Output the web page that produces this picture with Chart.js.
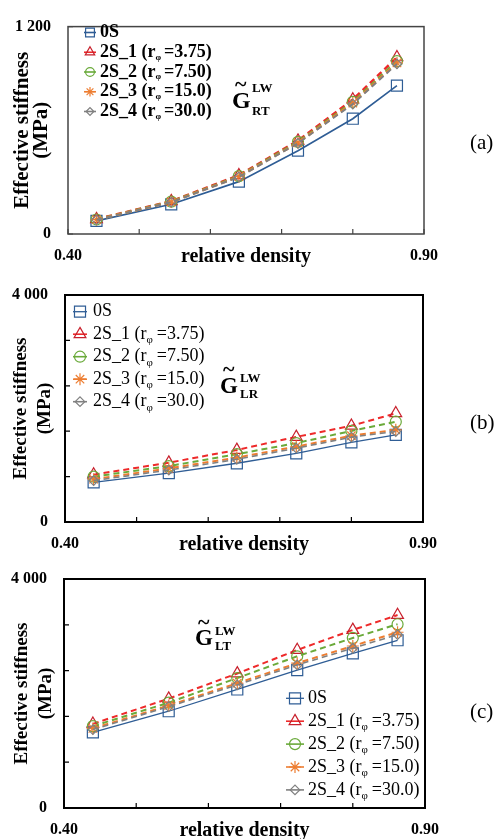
<!DOCTYPE html>
<html>
<head>
<meta charset="utf-8">
<title>Effective stiffness vs relative density</title>
<script src="https://cdn.jsdelivr.net/npm/chart.js@4.4.1/dist/chart.umd.min.js"></script>
<style>
  body { margin: 0; background: #fff; }
  #page { position: relative; width: 496px; height: 839px; overflow: hidden; font-family: "Liberation Serif", "Times New Roman", serif; }
  canvas { position: absolute; left: 0; top: 0; }
  .t { position: absolute; line-height: 1; white-space: nowrap; color: #000; }
  .b { font-weight: bold; }
</style>
</head>
<body>
<div id="page">
  <canvas id="chartA" width="496" height="839"></canvas>
  <canvas id="chartB" width="496" height="839"></canvas>
  <canvas id="chartC" width="496" height="839"></canvas>

  <!-- (a) G~ RT label -->
  <div class="t b" style="left:235px;top:73px;font-size:22px">~</div>
  <div class="t b" style="left:232px;top:88px;font-size:24px">G</div>
  <div class="t b" style="left:252px;top:81px;font-size:13px">LW</div>
  <div class="t b" style="left:252px;top:104px;font-size:13px">RT</div>
  <div class="t" style="left:470px;top:132px;font-size:21px">(a)</div>

  <!-- (b) G~ LR label -->
  <div class="t b" style="left:223px;top:358px;font-size:22px">~</div>
  <div class="t b" style="left:220px;top:374px;font-size:23px">G</div>
  <div class="t b" style="left:240px;top:371px;font-size:13px">LW</div>
  <div class="t b" style="left:240px;top:387px;font-size:13px">LR</div>
  <div class="t" style="left:470px;top:412px;font-size:21px">(b)</div>

  <!-- (c) G~ LT label -->
  <div class="t b" style="left:198px;top:611px;font-size:22px">~</div>
  <div class="t b" style="left:195px;top:626px;font-size:23px">G</div>
  <div class="t b" style="left:215px;top:624px;font-size:13px">LW</div>
  <div class="t b" style="left:215px;top:639px;font-size:13px">LT</div>
  <div class="t" style="left:470px;top:701px;font-size:21px">(c)</div>
</div>

<script>
// relative density, same for all three panels
const density = [0.44, 0.545, 0.64, 0.723, 0.80, 0.862];

const seriesNames = ['0S', '2S_1', '2S_2', '2S_3', '2S_4'];
const rPhi = [null, '3.75', '7.50', '15.0', '30.0'];

// (a) G_RT (MPa)
const rt0S  = [76, 172, 303, 482, 667, 858];
const rt2S1 = [86, 190, 340, 540, 778, 1022];
const rt2S2 = [84, 187, 335, 533, 765, 1000];
const rt2S3 = [83, 185, 332, 528, 758, 990];
const rt2S4 = [82, 184, 330, 525, 752, 984];

// (b) G_LR (MPa)
const lr0S  = [700, 860, 1035, 1210, 1405, 1535];
const lr2S1 = [835, 1045, 1270, 1500, 1695, 1915];
const lr2S2 = [800, 985, 1195, 1390, 1605, 1767];
const lr2S3 = [755, 945, 1135, 1330, 1520, 1625];
const lr2S4 = [730, 915, 1105, 1300, 1495, 1595];

// (c) G_LT (MPa)
const lt0S  = [1320, 1690, 2070, 2410, 2700, 2930];
const lt2S1 = [1470, 1910, 2350, 2760, 3110, 3370];
const lt2S2 = [1430, 1840, 2270, 2650, 2970, 3210];
const lt2S3 = [1390, 1790, 2180, 2530, 2830, 3070];
const lt2S4 = [1370, 1770, 2150, 2500, 2790, 3030];

const seriesStyle = [
    { color: '#2f5d95', point: 'rect', radius: 7.8, dash: [], width: 1.3 },
    { color: '#ee2a2a', pointColor: '#c8202c', point: 'triangle', radius: 6.8, dash: [6, 4], width: 2 },
    { color: '#6aaa3a', point: 'circle', radius: 5.5, dash: [6, 4], width: 2 },
    { color: '#ed7d31', point: 'star', radius: 6, dash: [6, 4], width: 2 },
    { color: '#808080', point: 'rectRot', radius: 4.8, dash: [6, 4], width: 1.6 }
];

const SERIF = '"Liberation Serif", "Times New Roman", serif';
Chart.defaults.font.family = SERIF;
Chart.defaults.color = '#000';

function fmtStiffness(v) {
    if (v >= 1000) return Math.floor(v / 1000) + ' ' + String(v % 1000).padStart(3, '0');
    return String(v);
}

// box round the plot area + short inward tick marks
const framePlugin = {
    id: 'frame',
    beforeDatasetsDraw(chart, args, opts) {
        const { ctx, chartArea: a, scales: { x, y } } = chart;
        ctx.save();
        ctx.strokeStyle = opts.color;
        ctx.lineWidth = opts.width;
        ctx.strokeRect(a.left, a.top, a.right - a.left, a.bottom - a.top);
        ctx.beginPath();
        x.ticks.forEach(t => {
            const px = x.getPixelForValue(t.value);
            ctx.moveTo(px, a.bottom);
            ctx.lineTo(px, a.bottom - opts.tick);
        });
        y.ticks.forEach(t => {
            const py = y.getPixelForValue(t.value);
            ctx.moveTo(a.left, py);
            ctx.lineTo(a.left + opts.tick, py);
        });
        ctx.lineWidth = 1.2;
        ctx.stroke();
        ctx.restore();
    }
};

// legend with line + marker, and r with subscript phi
const legendPlugin = {
    id: 'sketchLegend',
    afterDraw(chart, args, opts) {
        const ctx = chart.ctx;
        chart.data.datasets.forEach((ds, i) => {
            const yy = opts.y + i * opts.gap;
            ctx.save();
            ctx.strokeStyle = ds.borderColor;
            ctx.lineWidth = Math.min(ds.borderWidth, 1.6);
            ctx.beginPath();
            ctx.moveTo(opts.x - opts.line, yy);
            ctx.lineTo(opts.x + opts.line, yy);
            ctx.stroke();

            ctx.strokeStyle = ds.pointBorderColor;
            ctx.fillStyle = 'rgba(0,0,0,0)';
            ctx.lineWidth = ds.pointBorderWidth;
            Chart.helpers.drawPoint(ctx, {
                pointStyle: ds.pointStyle,
                radius: ds.pointRadius * opts.markerScale,
                rotation: 0,
                borderWidth: ds.pointBorderWidth
            }, opts.x, yy);

            ctx.fillStyle = '#000';
            ctx.textBaseline = 'middle';
            ctx.font = opts.font;
            let tx = opts.x + opts.textOff;
            if (rPhi[i] === null) {
                ctx.fillText(seriesNames[i], tx, yy);
            } else {
                const head = seriesNames[i] + ' (r';
                ctx.fillText(head, tx, yy);
                tx += ctx.measureText(head).width;
                ctx.font = opts.subFont;
                ctx.fillText('\u03c6', tx, yy + opts.subDrop);
                tx += ctx.measureText('\u03c6').width + opts.subGap;
                ctx.font = opts.font;
                ctx.fillText('=' + rPhi[i] + ')', tx, yy);
            }
            ctx.restore();
        });
    }
};

function makePanel(canvasId, p) {
    const datasets = p.series.map((values, i) => {
        const s = seriesStyle[i];
        return {
            label: seriesNames[i],
            data: density.map((d, k) => ({ x: d, y: values[k] })),
            borderColor: s.color,
            borderWidth: s.width * p.lineScale,
            borderDash: s.dash,
            pointStyle: s.point,
            pointRadius: s.radius * p.pointScale,
            pointBorderColor: s.pointColor || s.color,
            pointBackgroundColor: 'rgba(0,0,0,0)',
            pointBorderWidth: 1.2,
            order: 5 - i,
            tension: 0
        };
    });

    return new Chart(document.getElementById(canvasId), {
        type: 'line',
        data: { datasets: datasets },
        plugins: [framePlugin, legendPlugin],
        options: {
            responsive: false,
            animation: false,
            layout: {
                padding: { left: 0, top: p.top, right: 496 - p.right, bottom: 839 - p.bottom - 36 }
            },
            plugins: {
                legend: { display: false },
                tooltip: { enabled: false },
                frame: { color: p.frameColor, width: p.frameWidth, tick: 5 },
                sketchLegend: p.legend
            },
            scales: {
                x: {
                    type: 'linear',
                    min: 0.4,
                    max: 0.9,
                    grid: { display: false, drawTicks: false },
                    border: { display: false },
                    ticks: {
                        stepSize: 0.1,
                        padding: 12,
                        maxRotation: 0,
                        autoSkip: false,
                        font: { size: 16, weight: 'bold' },
                        callback: (v, i, arr) => (i === 0 || i === arr.length - 1) ? v.toFixed(2) : ''
                    },
                    title: {
                        display: true,
                        text: 'relative density',
                        font: { size: 20, weight: 'bold' },
                        padding: { top: 0, bottom: 1 }
                    },
                    afterFit: scale => { scale.height = 36; }
                },
                y: {
                    min: 0,
                    max: p.yMax,
                    grid: { display: false, drawTicks: false },
                    border: { display: false },
                    ticks: {
                        stepSize: p.yStep,
                        padding: 17,
                        font: { size: 16, weight: 'bold' },
                        callback: (v, i, arr) => (i === 0 || i === arr.length - 1) ? fmtStiffness(v) : ''
                    },
                    title: {
                        display: true,
                        text: ['Effective stiffness', '(MPa)'],
                        font: { size: p.yTitleSize, weight: 'bold', lineHeight: p.yTitleLh + 'px' },
                        padding: { top: p.yTitlePad, bottom: 0 }
                    },
                    afterFit: scale => { scale.width = p.left; }
                }
            }
        }
    });
}

makePanel('chartA', {
    series: [rt0S, rt2S1, rt2S2, rt2S3, rt2S4],
    top: 14, left: 68, right: 424, bottom: 234,
    yMax: 1200, yStep: 1200,
    yTitleSize: 21, yTitleLh: 19, yTitlePad: 13,
    lineScale: 1.25, pointScale: 1,
    frameColor: '#444', frameWidth: 1.5,
    legend: {
        x: 90, y: 32.5, gap: 19.75, line: 6, textOff: 10, markerScale: 0.8,
        font: 'bold 18px ' + SERIF, subFont: 'bold 9px ' + SERIF, subDrop: 5, subGap: 3
    }
});

makePanel('chartB', {
    series: [lr0S, lr2S1, lr2S2, lr2S3, lr2S4],
    top: 295, left: 65, right: 423, bottom: 522,
    yMax: 4000, yStep: 800,
    yTitleSize: 19, yTitleLh: 24, yTitlePad: 9,
    lineScale: 1, pointScale: 1,
    frameColor: '#000', frameWidth: 2,
    legend: {
        x: 80, y: 311.7, gap: 22.5, line: 7, textOff: 13, markerScale: 1,
        font: '18px ' + SERIF, subFont: '11px ' + SERIF, subDrop: 6, subGap: 4
    }
});

makePanel('chartC', {
    series: [lt0S, lt2S1, lt2S2, lt2S3, lt2S4],
    top: 579, left: 64, right: 425, bottom: 808,
    yMax: 4000, yStep: 800,
    yTitleSize: 19, yTitleLh: 24, yTitlePad: 10,
    lineScale: 1, pointScale: 1,
    frameColor: '#000', frameWidth: 2,
    legend: {
        x: 295, y: 698.3, gap: 22.9, line: 9, textOff: 13, markerScale: 1,
        font: '18px ' + SERIF, subFont: '11px ' + SERIF, subDrop: 6, subGap: 4
    }
});
</script>
</body>
</html>
